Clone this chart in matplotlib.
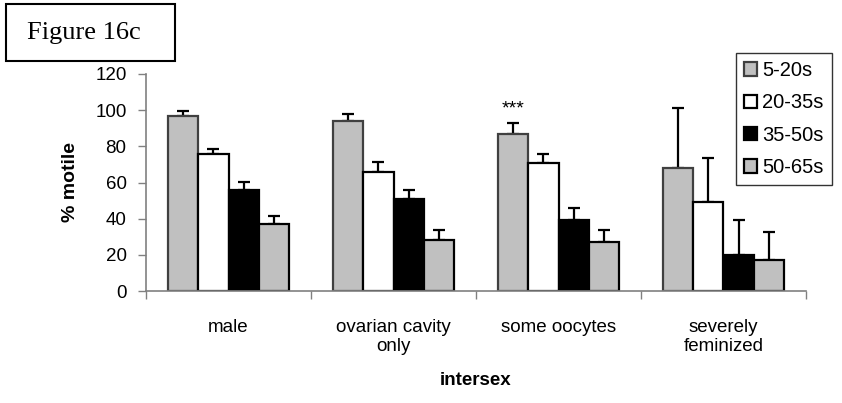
import matplotlib
matplotlib.use('Agg')
import matplotlib.pyplot as plt
from matplotlib.patches import Rectangle
import numpy as np

# data
categories = ['male', 'ovarian cavity\nonly', 'some oocytes', 'severely\nfeminized']
series_names = ['5-20s', '20-35s', '35-50s', '50-65s']
motile = [
    [97, 94, 87, 68],   # 5-20s
    [76, 66, 71, 49],   # 20-35s
    [56, 51, 39, 20],   # 35-50s
    [37, 28, 27, 17],   # 50-65s
]
errors = [
    [2.5, 4, 6, 33],
    [2.5, 5.5, 4.5, 24.5],
    [4.5, 5, 7, 19],
    [4.5, 5.5, 7, 15.5],
]
fills = ['#c0c0c0', '#ffffff', '#000000', '#c0c0c0']
edges = ['#404040', '#000000', '#000000', '#000000']

plt.rcParams['font.family'] = ['Liberation Sans', 'DejaVu Sans']

fig = plt.figure(figsize=(8.42, 4.03), dpi=100)
ax = fig.add_axes([146 / 842, 1 - 291 / 403, 660 / 842, 217 / 403])

x = np.arange(len(categories))
width = 0.182
for i, name in enumerate(series_names):
    pos = x + (i - 1.5) * width
    ax.bar(pos, motile[i], width, color=fills[i], edgecolor=edges[i],
           linewidth=1.6, label=name, zorder=2)
    ax.errorbar(pos, motile[i], yerr=[np.zeros(len(categories)), errors[i]],
                fmt='none', ecolor='black', elinewidth=1.6, capsize=4.5,
                capthick=1.6, zorder=1)

# significance marker
ax.text(x[2] - 1.5 * width, 100.5, '***', ha='center', va='center', fontsize=14)

ax.set_xlim(-0.5, len(categories) - 0.5)
ax.set_ylim(0, 120)
ax.set_yticks(range(0, 121, 20))
ax.tick_params(axis='y', labelsize=13.5, length=6, pad=8, color='#808080', width=1)

ax.set_xticks(np.arange(len(categories) + 1) - 0.5)
ax.set_xticklabels([])
ax.tick_params(axis='x', which='major', length=6, color='#808080', width=1)
ax.set_xticks(x, minor=True)
ax.set_xticklabels(categories, minor=True, fontsize=13.5)
ax.tick_params(axis='x', which='minor', length=0, pad=20)

for side in ['top', 'right']:
    ax.spines[side].set_visible(False)
for side in ['left', 'bottom']:
    ax.spines[side].set_color('#808080')
    ax.spines[side].set_linewidth(1.2)

ax.set_ylabel('% motile', fontsize=14, fontweight='bold', labelpad=12)
ax.set_xlabel('intersex', fontsize=13.5, fontweight='bold', labelpad=12)

leg = ax.legend(loc='upper left', bbox_to_anchor=(736 / 842, 1 - 53 / 403),
                bbox_transform=fig.transFigure, borderaxespad=0,
                fontsize=14.5, handlelength=0.65, handleheight=0.65,
                handletextpad=0.25, labelspacing=0.66, borderpad=0.4,
                fancybox=False, frameon=True)
leg.get_frame().set_edgecolor('black')
leg.get_frame().set_linewidth(1)

# title box in the top-left corner
fig.patches.append(Rectangle((6 / 842, 1 - 61 / 403), 169 / 842, 57 / 403,
                             transform=fig.transFigure, fill=False,
                             edgecolor='black', linewidth=1.5))
fig.text(84 / 842, 1 - 33 / 403, 'Figure 16c', ha='center', va='center',
         fontsize=19, family='Liberation Serif')

fig.savefig('out.png', dpi=100)
